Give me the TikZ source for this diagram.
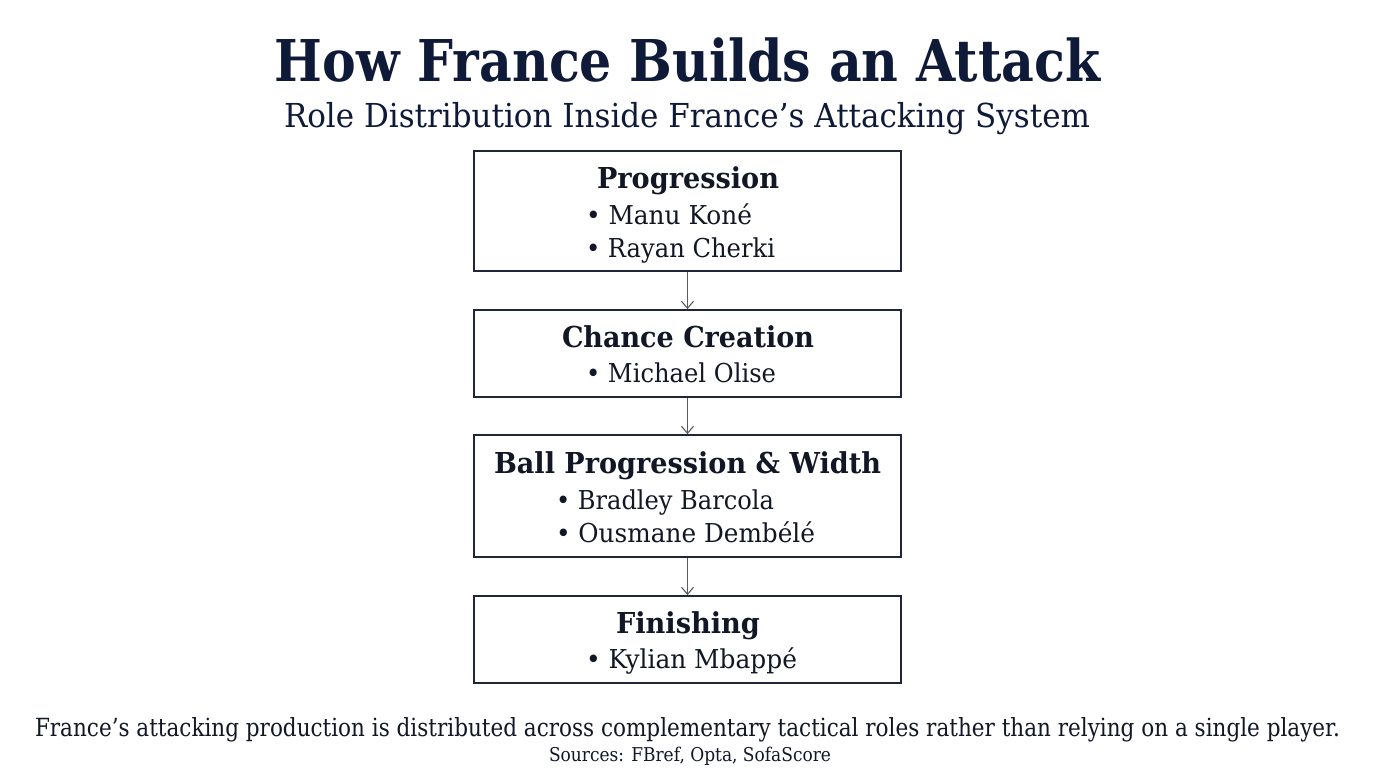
\documentclass[tikz,border=0pt]{standalone}
\usepackage{fontspec}
\setmainfont{DejaVu Serif}
\usetikzlibrary{arrows.meta}
\definecolor{navy}{HTML}{0E1A38}
\definecolor{ink}{HTML}{121726}
\definecolor{boxline}{HTML}{1E2638}
\definecolor{arrowgray}{HTML}{555A63}
\newcommand{\fw}[2]{\resizebox{#1pt}{\height}{#2}}
\newcommand{\fsz}[1]{\fontsize{#1pt}{#1pt}\selectfont}
\tikzset{
  txt/.style={inner sep=0pt, outer sep=0pt, text=ink},
  rolebox/.style={draw=boxline, line width=1.8pt, fill=white, minimum width=427pt, inner sep=0pt},
  flow/.style={draw=arrowgray, line width=1.1pt, -{Straight Barb[length=7pt,width=12pt,line width=1.1pt]}},
  head/.style={txt, anchor=base, font=\fsz{28.8}\bfseries},
  item/.style={txt, anchor=base west, font=\fsz{26}},
}
\begin{document}
\begin{tikzpicture}[x=1pt,y=-1pt]
\useasboundingbox[fill=white] (0,0) rectangle (1376,768);
% title
\node[txt, anchor=base, text=navy, font=\fsz{57.6}\bfseries] (title) at (687.5,82) {\fw{825}{How France Builds an Attack}};
\node[txt, anchor=base, text=navy, font=\fsz{33}] (subtitle) at (687,127) {\fw{806}{Role Distribution Inside France’s Attacking System}};
% boxes
\node[rolebox, minimum height=120pt] (b1) at (687.5,211) {};
\node[rolebox, minimum height=87pt] (b2) at (687.5,353.5) {};
\node[rolebox, minimum height=122pt] (b3) at (687.5,496) {};
\node[rolebox, minimum height=87pt] (b4) at (687.5,639.5) {};
% box texts
\node[head] (h1) at (688,188) {\fw{182}{Progression}};
\node[item] (i11) at (586,224) {\fw{166}{• Manu Koné}};
\node[item] (i12) at (586,257) {\fw{189}{• Rayan Cherki}};
\node[head] (h2) at (688,347) {\fw{252}{Chance Creation}};
\node[item] (i21) at (586,382) {\fw{190}{• Michael Olise}};
\node[head] (h3) at (687.5,473) {\fw{387}{Ball Progression \& Width}};
\node[item] (i31) at (556,509) {\fw{218}{• Bradley Barcola}};
\node[item] (i32) at (556,542) {\fw{259}{• Ousmane Dembélé}};
\node[head] (h4) at (688,633) {\fw{144}{Finishing}};
\node[item] (i41) at (586,668) {\fw{211}{• Kylian Mbappé}};
% arrows
\draw[flow] (b1.south) -- (b2.north);
\draw[flow] (b2.south) -- (b3.north);
\draw[flow] (b3.south) -- (b4.north);
% footer
\node[txt, anchor=base, font=\fsz{25}] (foot) at (687.5,736) {\fw{1305}{France’s attacking production is distributed across complementary tactical roles rather than relying on a single player.}};
\node[txt, anchor=base, font=\fsz{19}] (src) at (690,761) {\fw{282}{Sources: FBref, Opta, SofaScore}};
\end{tikzpicture}
\end{document}
